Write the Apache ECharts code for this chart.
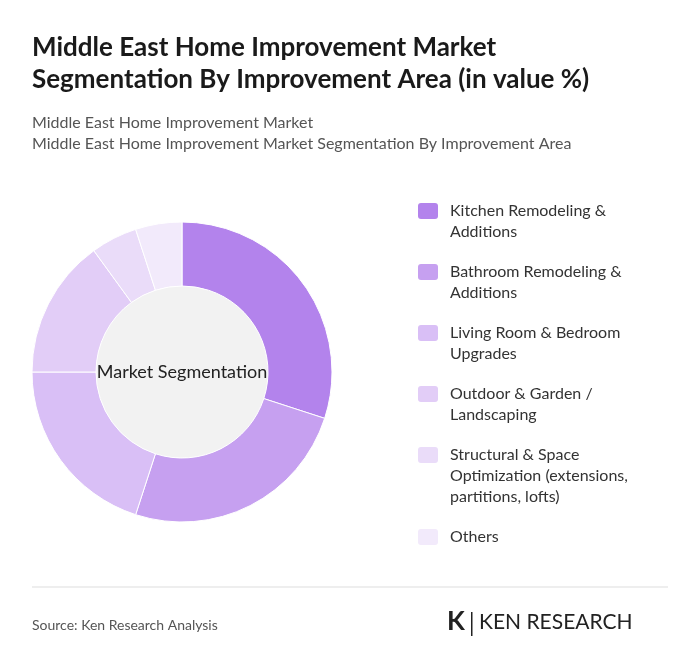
<!DOCTYPE html>
<html><head><meta charset="utf-8">
<script src="https://cdn.jsdelivr.net/npm/echarts@6/dist/echarts.min.js"></script>
<style>body{margin:0;background:#fff}#c{width:700px;height:672px}</style></head>
<body><div id="c"></div>
<script>
const categories = ["Kitchen Remodeling & Additions","Bathroom Remodeling & Additions","Living Room & Bedroom Upgrades","Outdoor & Garden / Landscaping","Structural & Space Optimization (extensions, partitions, lofts)","Others"];
const legendLabels = ["Kitchen Remodeling &\nAdditions","Bathroom Remodeling &\nAdditions","Living Room & Bedroom\nUpgrades","Outdoor & Garden /\nLandscaping","Structural & Space\nOptimization (extensions,\npartitions, lofts)","Others"];
const values = [30,25,20,15,5,5];
const colors = ["#b383ec","#c6a0f0","#d9bff6","#e2cdf7","#eadcf9","#f2eafb"];
const F = "Lato, 'Noto Sans', sans-serif";
const chart = echarts.init(document.getElementById('c'));
const g = [
 {type:'text',left:32,top:32,style:{text:'Middle East Home Improvement Market\nSegmentation By Improvement Area (in value %)',font:'bold 26px '+F,fill:'#1a1a1a',lineHeight:32}},
 {type:'text',left:32,top:112,style:{text:'Middle East Home Improvement Market\nMiddle East Home Improvement Market Segmentation By Improvement Area',font:'16px '+F,fill:'#555',lineHeight:21}},
 {type:'line',shape:{x1:32,y1:587,x2:668,y2:587},style:{stroke:'#ddd',lineWidth:1}},
 {type:'text',left:32,top:618,style:{text:'Source: Ken Research Analysis',font:'14px '+F,fill:'#555'}},
 {type:'text',left:447,top:609,style:{text:'K',font:'bold 26px '+F,fill:'#222'}},
 {type:'rect',shape:{x:471,y:612,width:1.5,height:24},style:{fill:'#222'}},
 {type:'text',left:479,top:612,style:{text:'KEN RESEARCH',font:'21px '+F,fill:'#222'}}
];
let y = 200;
legendLabels.forEach((t,i)=>{
  const n = t.split('\n').length;
  g.push({type:'rect',shape:{x:418,y:y+3,width:20,height:16,r:3},style:{fill:colors[i]}});
  g.push({type:'text',left:450,top:y,style:{text:t,font:'16px '+F,fill:'#333',lineHeight:21}});
  y += n*21 + 19;
});
chart.setOption({
  animation:false,
  graphic:g,
  series:[
   {type:'pie',center:[182,372],radius:[0,86],silent:true,label:{show:true,position:'center',formatter:'Market Segmentation',fontFamily:F,fontSize:18,color:'#222'},data:[{value:1,itemStyle:{color:'#f2f2f2'}}]},
   {type:'pie',center:[182,372],radius:[86,150],startAngle:90,clockwise:true,label:{show:false},
    itemStyle:{borderColor:'#fff',borderWidth:1},
    data:categories.map((c,i)=>({name:c,value:values[i],itemStyle:{color:colors[i]}}))}
  ]
});
</script></body></html>
